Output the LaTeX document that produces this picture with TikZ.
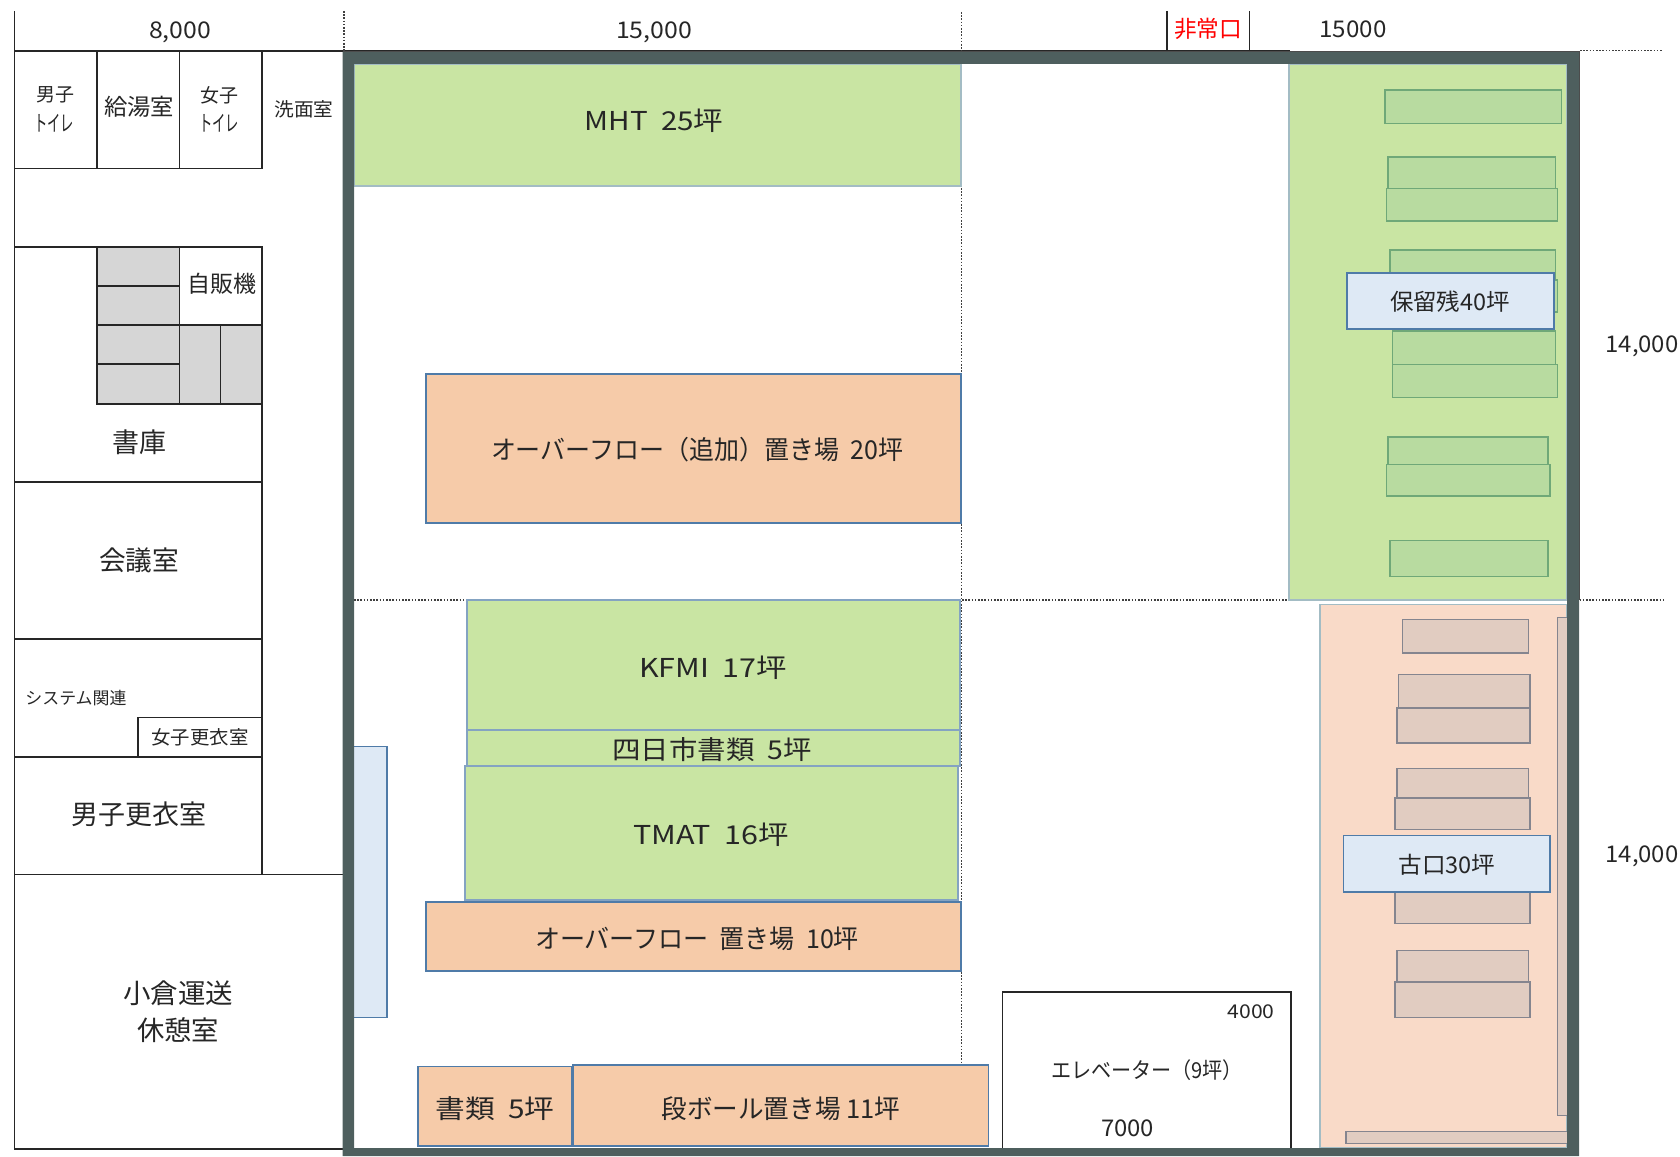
\documentclass[tikz,border=0pt]{standalone}
\usepackage{fontspec}
\usepackage{graphicx}
\setmainfont{Noto Sans CJK JP}
\definecolor{wallc}{HTML}{4E5F5E}
\definecolor{greenA}{HTML}{C9E5A3}
\definecolor{greenB}{HTML}{B8DBA0}
\definecolor{greenE}{HTML}{6FA878}
\definecolor{orgA}{HTML}{F6CBA9}
\definecolor{orgB}{HTML}{F9DAC8}
\definecolor{orgC}{HTML}{E1CCC1}
\definecolor{orgE}{HTML}{85858F}
\definecolor{blueA}{HTML}{DEE9F5}
\definecolor{blueE}{HTML}{4F7BA8}
\definecolor{edgeL}{HTML}{A3BCC4}
\definecolor{grayF}{HTML}{D6D6D6}
\definecolor{inkc}{HTML}{262626}
\newsavebox\fitbox
\newcommand\fitw[3]{\sbox\fitbox{\fontsize{#2}{#2}\selectfont #3}\pgfmathsetmacro\fitr{(#1)*0.5/\the\wd\fitbox}\scalebox{\fitr}[1]{\usebox\fitbox}}
\newcommand\lab[7][inkc]{\node[labelnode,text=#1] (#2) at (#3,#4) {\fitw{#5}{#6}{#7}};}
\newcommand\bx[5]{\draw[#1] (#2,#3) rectangle (#4,#5);}
\tikzset{
 labelnode/.style={inner sep=0pt,outer sep=0pt,anchor=center},
 room/.style={draw=black!85,line width=0.7pt,fill=white},
 roomline/.style={draw=black!85,line width=0.7pt},
 stack/.style={draw=black!85,line width=0.7pt,fill=grayF},
 area/.style={fill=greenA,draw=edgeL,line width=0.7pt},
 orgarea/.style={fill=orgB,draw=edgeL,line width=0.7pt},
 greenbox/.style={fill=greenA,draw=blueE!70,line width=0.6pt},
 orgbox/.style={fill=orgA,draw=blueE,line width=0.7pt},
 bluebox/.style={fill=blueA,draw=blueE,line width=0.8pt},
 palg/.style={fill=greenB,draw=greenE,line width=0.7pt},
 palo/.style={fill=orgC,draw=orgE,line width=0.8pt},
 dots/.style={draw=black!75,line width=0.6pt,dash pattern=on 0.8pt off 0.8pt},
}
\begin{document}
\begin{tikzpicture}[x=0.5pt,y=-0.5pt]
\useasboundingbox (0,0) rectangle (1680,1156);
% left building
\draw[roomline] (14.5,11) -- (14.5,1149) -- (345,1149);
\draw[roomline] (14.5,51) -- (1290,51);
\bx{room}{14.5}{51}{97}{168.5}
\bx{room}{97}{51}{179.5}{168.5}
\bx{room}{179.5}{51}{262}{168.5}
\draw[roomline] (14.5,247) -- (262,247) -- (262,874.7);
\draw[roomline] (14.5,482) -- (262,482);
\draw[roomline] (14.5,639) -- (262,639);
\draw[roomline] (14.5,756.8) -- (262,756.8);
\draw[roomline] (138,756.8) -- (138,717.4) -- (262,717.4);
\draw[roomline] (14.5,874.7) -- (345,874.7);
\bx{stack}{97}{247}{179.5}{286}
\bx{stack}{97}{286}{179.5}{325}
\bx{stack}{97}{325}{179.5}{364}
\bx{stack}{97}{364}{179.5}{404}
\bx{stack}{179.5}{325}{220.5}{404}
\bx{stack}{220.5}{325}{262}{404}
\bx{room}{179.5}{247}{262}{325}
% dimension marks
\draw[dots] (344,11) -- (344,51);
\draw[dots] (961.5,12) -- (961.5,1063);
\draw[dots] (354,600) -- (1663,600);
\draw[dots] (1580,50.6) -- (1663,50.6);
\draw[roomline] (1167,11) -- (1167,51);
\draw[roomline] (1249.5,11) -- (1249.5,51);
% right storage zones
\bx{area}{1289}{64}{1567}{600}
\bx{orgarea}{1320}{604.4}{1567}{1148}
\bx{palg}{1385}{90}{1561.7}{123.7}
\bx{palg}{1388}{157}{1555.7}{188.5}
\bx{palg}{1386.7}{188.5}{1557.7}{221}
\bx{palg}{1390}{250}{1555.7}{281}
\bx{palg}{1390}{280}{1557.7}{312}
\bx{palg}{1392.7}{331}{1555.7}{364.4}
\bx{palg}{1392.7}{364.4}{1557.7}{397.6}
\bx{palg}{1388}{437}{1548}{464.4}
\bx{palg}{1386.7}{464.4}{1550}{496}
\bx{palg}{1390}{540.7}{1548}{576.3}
\bx{palo}{1402.3}{619.6}{1528.3}{653.2}
\bx{palo}{1398.3}{674.5}{1530}{707.7}
\bx{palo}{1396.7}{707.7}{1530}{743}
\bx{palo}{1396.7}{768.3}{1528.3}{798}
\bx{palo}{1394.7}{798}{1530}{829.4}
\bx{palo}{1394.7}{860}{1530}{923.6}
\bx{palo}{1396.7}{950.6}{1528.3}{982}
\bx{palo}{1394.7}{982}{1530}{1017.4}
\bx{palo}{1557.3}{617.4}{1570}{1115.6}
\bx{palo}{1345.7}{1131.5}{1570}{1143.4}
\bx{bluebox}{1347}{272.7}{1554}{329}
\bx{bluebox}{1343.3}{835.5}{1550}{892}
% main areas
\bx{area}{354}{64}{961}{186}
\bx{orgbox}{426}{374}{961}{523}
\bx{greenbox}{467}{600}{960}{730}
\bx{greenbox}{467}{730}{960}{766}
\bx{greenbox}{465}{766}{958}{900}
\bx{orgbox}{426}{902}{961}{971}
\bx{orgbox}{418}{1066.7}{572}{1146}
\bx{orgbox}{573}{1065}{988.6}{1146}
\bx{bluebox}{350}{746.5}{387}{1017.6}
\bx{room}{1002.7}{992}{1291}{1152}
% walls
\fill[wallc,even odd rule] (342.7,52) rectangle (1579,1156) (354,64) rectangle (1567,1148);
\draw[black!70,line width=0.5pt] (342.7,51.5) -- (1579,51.5) -- (1579,600);
% labels
\lab{d1}{180}{32}{62}{11.5pt}{8,000}
\lab{d2}{654}{32}{76}{11.5pt}{15,000}
\lab{d3}{1353}{29}{67}{11.5pt}{15000}
\lab{d4}{1642}{346}{73}{11.5pt}{14,000}
\lab{d5}{1642}{856}{73}{11.5pt}{14,000}
\lab[red]{exit}{1208}{29}{68}{11.5pt}{非常口}
\lab{wc1a}{55}{95}{38}{9.5pt}{男子}
\lab{wc1b}{54}{123}{40}{11pt}{トイレ}
\lab{kyu}{139}{107}{70}{11.5pt}{給湯室}
\lab{wc2a}{219}{95}{38}{9.5pt}{女子}
\lab{wc2b}{219}{123}{40}{11pt}{トイレ}
\lab{sen}{304}{109}{59}{9.5pt}{洗面室}
\lab{vend}{222}{284}{69}{11.5pt}{自販機}
\lab{sho}{139}{442}{54}{13.5pt}{書庫}
\lab{kai}{139}{560}{80}{13.5pt}{会議室}
\lab{sys}{76}{698}{101}{8.5pt}{システム関連}
\lab{jo}{200}{737}{97}{9.5pt}{女子更衣室}
\lab{dan}{139}{814}{135}{13.5pt}{男子更衣室}
\lab{oku1}{178}{993}{110}{13.5pt}{小倉運送}
\lab{oku2}{178}{1030}{82}{13.5pt}{休憩室}
\lab{mht}{654}{121}{139}{13pt}{MHT~~25坪}
\lab{ov1}{697}{450}{412}{13pt}{オーバーフロー（追加）置き場~~20坪}
\lab{kfmi}{713}{668}{148}{13pt}{KFMI~~17坪}
\lab{yok}{712}{750}{199}{13pt}{四日市書類~~5坪}
\lab{tmat}{711}{835}{156}{13pt}{TMAT~~16坪}
\lab{ov2}{697}{939}{324}{13pt}{オーバーフロー~~置き場~~10坪}
\lab{shor}{495}{1109}{119}{13pt}{書類~~5坪}
\lab{dbl}{781}{1109}{239}{13pt}{段ボール置き場~11坪}
\lab{elv}{1147}{1070}{192}{11pt}{エレベーター（9坪）}
\lab{e4}{1251}{1012}{47}{9.5pt}{4000}
\lab{e7}{1127.7}{1128}{53}{11.5pt}{7000}
\lab{hor}{1450}{302}{120}{11.5pt}{保留残40坪}
\lab{fur}{1447}{865}{97}{11.5pt}{古口30坪}
\end{tikzpicture}
\end{document}
